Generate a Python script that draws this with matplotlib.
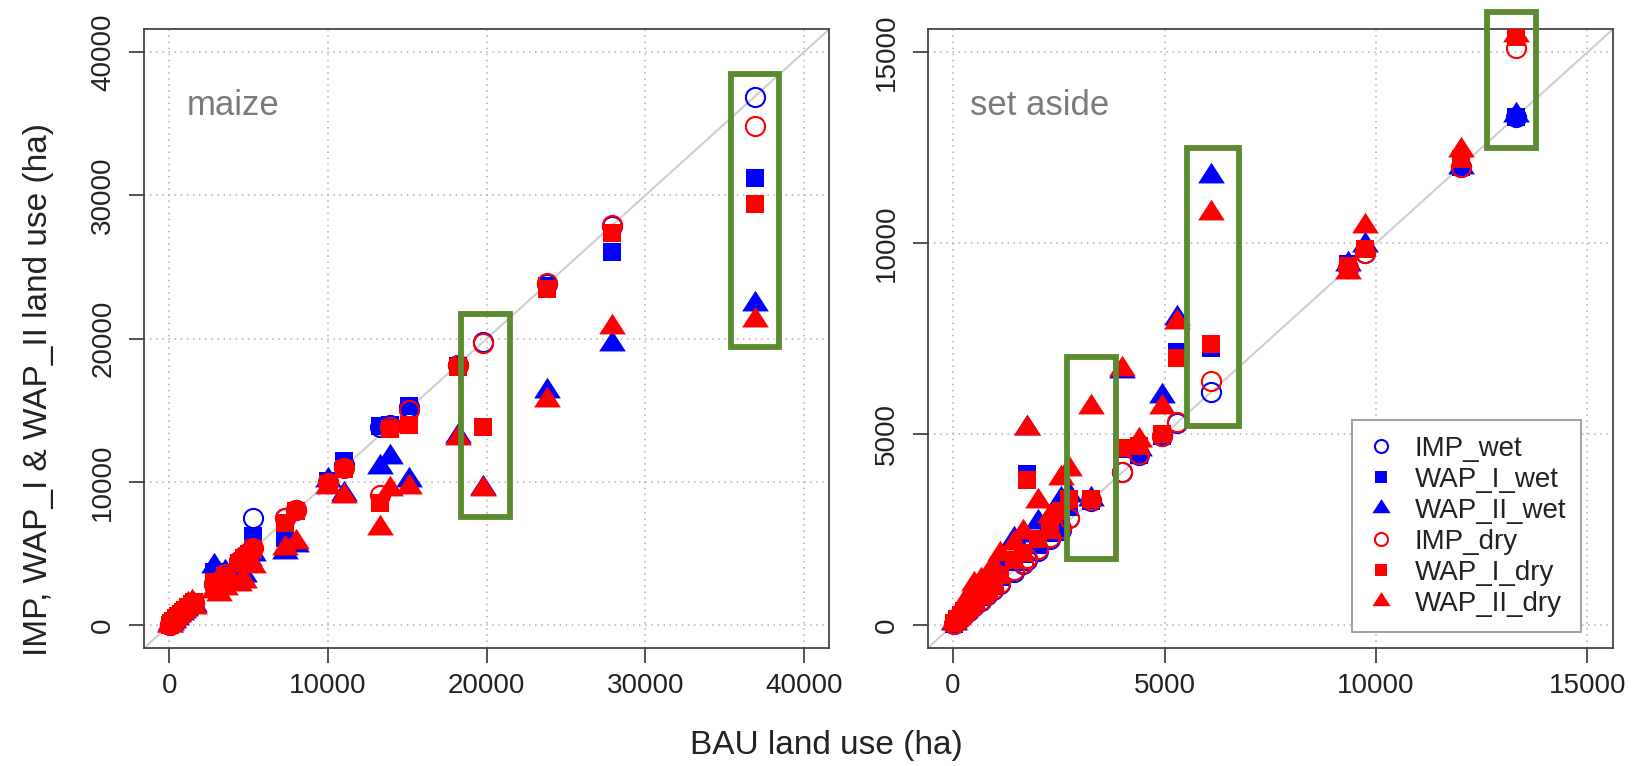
import matplotlib
matplotlib.use("Agg")
import matplotlib.pyplot as plt
from matplotlib.lines import Line2D
from matplotlib.patches import Rectangle

plt.rcParams['font.family'] = ['Liberation Sans', 'DejaVu Sans']

# ---------------- data: maize ----------------
maize_bau     = [20, 120, 250, 400, 550, 700, 850, 1000, 1200, 1400, 1550, 2800, 3100, 3500, 4400, 4700,
                 5000, 5300, 7300, 8000, 10000, 11000, 13300, 13900, 15100, 18200, 19800, 23800, 27900, 36900]
maize_imp_wet = [20, 120, 250, 400, 560, 700, 850, 1000, 1200, 1400, 1560, 2900, 3150, 3600, 4500, 4800,
                 5100, 7500, 7450, 8050, 10000, 11200, 13800, 13950, 15250, 18150, 19750, 23850, 27900, 36900]
maize_wap1_wet = [25, 140, 280, 450, 620, 760, 900, 1060, 1260, 1450, 1600, 3700, 3300, 3650, 4300, 4600,
                  5000, 6200, 6100, 8000, 10050, 11450, 13900, 14000, 15300, 18100, 13850, 23700, 26050, 31200]
maize_wap2_wet = [30, 170, 320, 520, 700, 860, 1000, 1150, 1380, 1550, 1400, 4100, 3100, 3700, 3300, 3500,
                  4600, 5000, 5100, 5600, 10150, 9150, 11050, 11750, 10100, 13200, 9600, 16350, 19650, 22400]
maize_imp_dry = [20, 120, 260, 410, 570, 720, 860, 1020, 1220, 1420, 1560, 2850, 3100, 3550, 4450, 4800,
                 5050, 5400, 7500, 8050, 9900, 11000, 9100, 13800, 15000, 18150, 19700, 23900, 27950, 34850]
maize_wap1_dry = [25, 150, 290, 470, 650, 790, 930, 1090, 1300, 1500, 1620, 3000, 2900, 3400, 4350, 4700,
                  5000, 5300, 7150, 7950, 9850, 10900, 8550, 13700, 14000, 18050, 13800, 23500, 27400, 29400]
maize_wap2_dry = [30, 190, 340, 560, 760, 900, 1050, 1200, 1450, 1600, 1300, 2400, 2200, 2600, 2900, 3100,
                  4200, 4100, 5400, 5800, 9650, 9000, 6800, 9500, 9650, 13100, 9500, 15750, 20800, 21300]

# ---------------- data: set aside ----------------
set_bau      = [30, 100, 180, 270, 380, 500, 650, 800, 950, 1100, 1450, 1650, 1750, 2000, 2300, 2550, 2750,
                3250, 4000, 4400, 4950, 5300, 6100, 9350, 9750, 12000, 13300]
set_imp_wet  = [30, 100, 180, 270, 380, 500, 640, 790, 920, 1080, 1400, 1600, 1700, 1950, 2250, 2500, 2800,
                3250, 4000, 4450, 4950, 5300, 6100, 9350, 9750, 12000, 13300]
set_wap1_wet = [40, 130, 230, 330, 450, 600, 760, 900, 1050, 1250, 1650, 1850, 3950, 2100, 2400, 2550, 3100,
                3250, 4600, 4450, 4950, 7150, 7250, 9450, 9850, 12000, 13300]
set_wap2_wet = [60, 220, 360, 500, 680, 900, 1000, 1150, 1420, 1700, 2250, 2350, 5150, 2700, 2600, 3300, 3400,
                3300, 6650, 4600, 6000, 8050, 11750, 9450, 9950, 12000, 13350]
set_imp_dry  = [30, 100, 180, 270, 390, 510, 660, 810, 950, 1100, 1450, 1620, 1750, 2000, 2300, 2550, 2800,
                3270, 4000, 4470, 4950, 5330, 6400, 9350, 9750, 12000, 15100]
set_wap1_dry = [50, 150, 260, 360, 480, 650, 800, 950, 1100, 1300, 1700, 1900, 3800, 2250, 2500, 3000, 3300,
                3300, 4650, 4700, 5000, 7000, 7350, 9400, 9850, 12200, 15400]
set_wap2_dry = [90, 260, 420, 580, 780, 1080, 1180, 1280, 1560, 1850, 2150, 2450, 5150, 3250, 2850, 3850, 4100,
                5700, 6700, 4850, 5700, 7950, 10800, 9250, 10450, 12450, 15450]

series_labels = ["IMP_wet", "WAP_I_wet", "WAP_II_wet", "IMP_dry", "WAP_I_dry", "WAP_II_dry"]
series_colors = ["#0000ff", "#0000ff", "#0000ff", "#ff0000", "#ff0000", "#ff0000"]
series_kinds = ["circle", "square", "triangle", "circle", "square", "triangle"]

# highlight boxes (x0, x1, y0, y1) in data units
maize_boxes = [(18390, 21500, 7560, 21700), (35400, 38440, 19390, 38470)]
set_boxes = [(2692, 3864, 1720, 7026), (5541, 6760, 5218, 12495), (12636, 13784, 12482, 16045)]

TRI = [(-1.0, -0.52), (1.0, -0.52), (0.0, 1.03)]


def marker_style(kind, color, scale=1.0):
    if kind == "circle":
        return dict(marker="o", markersize=13.8 * scale, markerfacecolor="none",
                    markeredgecolor=color, markeredgewidth=1.5)
    if kind == "square":
        return dict(marker="s", markersize=13.5 * scale, markerfacecolor=color,
                    markeredgecolor=color, markeredgewidth=0)
    return dict(marker=TRI, markersize=19.8 * scale, markerfacecolor=color,
                markeredgecolor=color, markeredgewidth=0)


fig = plt.figure(figsize=(16.37, 7.66), dpi=100)
ax1 = fig.add_axes([0.088, 0.154, 0.4185, 0.8077])
ax2 = fig.add_axes([0.5667, 0.154, 0.4185, 0.8077])

green = "#5b8a30"


def setup(ax, lim, ticks, label, xs, ys_list, boxes):
    pad = (lim[1] - lim[0]) * 0.04
    ax.set_xlim(lim[0] - pad, lim[1] + pad)
    ax.set_ylim(lim[0] - pad, lim[1] + pad)
    ax.set_xticks(ticks)
    ax.set_yticks(ticks)
    ax.set_xticklabels([str(t) for t in ticks])
    ax.set_yticklabels([str(t) for t in ticks], rotation=90, va="center")
    ax.tick_params(axis="both", labelsize=20, length=11, width=1.3, color="#444444",
                   labelcolor="#222222")
    ax.tick_params(axis="x", pad=7)
    ax.tick_params(axis="y", pad=9)
    for s in ax.spines.values():
        s.set_color("#444444")
        s.set_linewidth(1.3)
    for t in ticks:
        ax.axvline(t, color="#b0b0b0", lw=1.1, ls=(0, (1, 3)), zorder=0)
        ax.axhline(t, color="#b0b0b0", lw=1.1, ls=(0, (1, 3)), zorder=0)
    ax.axline((0, 0), slope=1, color="#cfcfcf", lw=1.5, zorder=1)
    for ys, kind, col in zip(ys_list, series_kinds, series_colors):
        ax.plot(xs, ys, linestyle="none", zorder=3, **marker_style(kind, col))
    ax.text(0.062, 0.877, label, transform=ax.transAxes, fontsize=25, color="#7a7a7a",
            ha="left", va="center")
    for (x0, x1, y0, y1) in boxes:
        ax.add_patch(Rectangle((x0, y0), x1 - x0, y1 - y0, fill=False, edgecolor=green,
                               lw=4.2, zorder=5, clip_on=False))


setup(ax1, (0, 40000), [0, 10000, 20000, 30000, 40000], "maize", maize_bau,
      [maize_imp_wet, maize_wap1_wet, maize_wap2_wet, maize_imp_dry, maize_wap1_dry, maize_wap2_dry],
      maize_boxes)
setup(ax2, (0, 15000), [0, 5000, 10000, 15000], "set aside", set_bau,
      [set_imp_wet, set_wap1_wet, set_wap2_wet, set_imp_dry, set_wap1_dry, set_wap2_dry],
      set_boxes)

handles = [Line2D([], [], linestyle="none", **marker_style(k, c, 0.68))
           for k, c in zip(series_kinds, series_colors)]
leg = ax2.legend(handles, series_labels, loc="lower right", bbox_to_anchor=(0.954, 0.026),
                 fontsize=20, frameon=True, fancybox=False, framealpha=1,
                 edgecolor="#9a9a9a", borderpad=0.55, labelspacing=0.18,
                 handlelength=1.0, handletextpad=0.7, borderaxespad=0)
leg.get_frame().set_linewidth(1.3)
for t in leg.get_texts():
    t.set_color("#222222")

fig.text(0.0236, 0.491, "IMP, WAP_I & WAP_II land use (ha)", rotation=90, fontsize=24,
         ha="center", va="center", color="#222222")
fig.text(0.505, 0.027, "BAU land use (ha)", fontsize=24, ha="center", va="center", color="#222222")

fig.savefig("out.png", dpi=100)
